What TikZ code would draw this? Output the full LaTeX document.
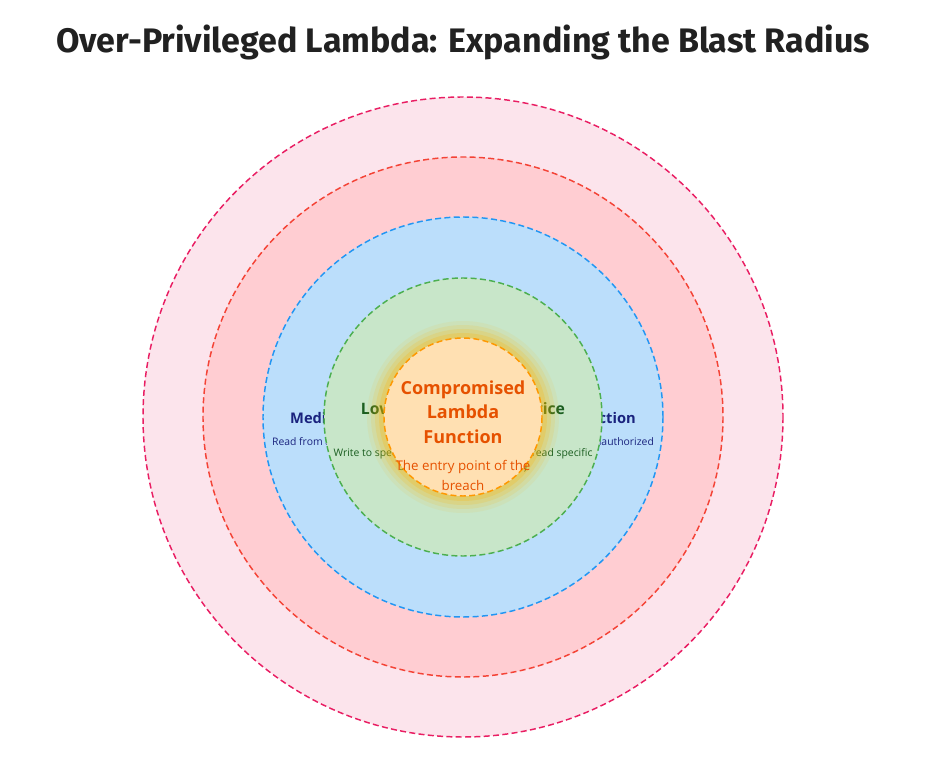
\documentclass[tikz,border=0pt]{standalone}
\usepackage{fontspec}
\setmainfont{Open Sans}
\newfontfamily\titlefont{Fira Sans}
\definecolor{ringA}{HTML}{FCE4EC}\definecolor{lineA}{HTML}{E91E63}
\definecolor{ringB}{HTML}{FFCDD2}\definecolor{lineB}{HTML}{F44336}
\definecolor{ringC}{HTML}{BBDEFB}\definecolor{lineC}{HTML}{2196F3}
\definecolor{ringD}{HTML}{C8E6C9}\definecolor{lineD}{HTML}{4CAF50}
\definecolor{ringE}{HTML}{FFE0B2}\definecolor{lineE}{HTML}{FF9800}
\definecolor{txtC}{HTML}{1A237E}\definecolor{txtD}{HTML}{1B5E20}\definecolor{txtE}{HTML}{E65100}
\definecolor{titletxt}{HTML}{212121}
\tikzset{
  ring/.style={line width=1.1pt, dash pattern=on 4.5pt off 2.5pt},
  head/.style={font=\bfseries\fontsize{11}{13}\selectfont, align=center},
  note/.style={font=\fontsize{7.8}{10.5}\selectfont, align=center}
}
\begin{document}
\begin{tikzpicture}[x=0.75pt,y=-0.75pt]
	\useasboundingbox (0,0) rectangle (926,759);
	\node [text=titletxt] (title) at (463,42) {\titlefont\bfseries\fontsize{25.5}{30}\selectfont Over-Privileged Lambda: Expanding the Blast Radius};
	\coordinate (c) at (463,417);
	\draw [ring, fill=ringA, draw=lineA] (c) circle [radius=320];
	\draw [ring, fill=ringB, draw=lineB] (c) circle [radius=260];
	\draw [ring, fill=ringC, draw=lineC] (c) circle [radius=200];
	\node [head, text=txtC] (medhead) at (463,420) {Medium Impact: Other Functions in Production};
	\node [note, text=txtC] (mednote) at (463,443) {Read from all other production databases and any S3 buckets, all unauthorized};
	\draw [ring, fill=ringD, draw=lineD] (c) circle [radius=139];
	\node [head, font=\bfseries\fontsize{11.8}{14}\selectfont, text=txtD] (lowhead) at (463,410) {Low Impact: Same Service};
	\node [note, text=txtD] (lownote) at (463,461) {Write to specific S3 log buckets (and also read specific\\S3 objects of this function)};
	% glow
	\foreach \r/\o in {96/0.08,92/0.12,88/0.16,84/0.22}
		\fill [orange!60!yellow, opacity=\o] (c) circle [radius=\r];
	\draw [ring, fill=ringE, draw=lineE] (c) circle [radius=79];
	\node [font=\bfseries\fontsize{13.5}{18.5}\selectfont, align=center, text=txtE] (lambda) at (463,412) {Compromised\\Lambda\\Function};
	\node [note, font=\fontsize{10}{15}\selectfont, text=txtE] (entry) at (463,475) {The entry point of the\\breach};
\end{tikzpicture}
\end{document}
